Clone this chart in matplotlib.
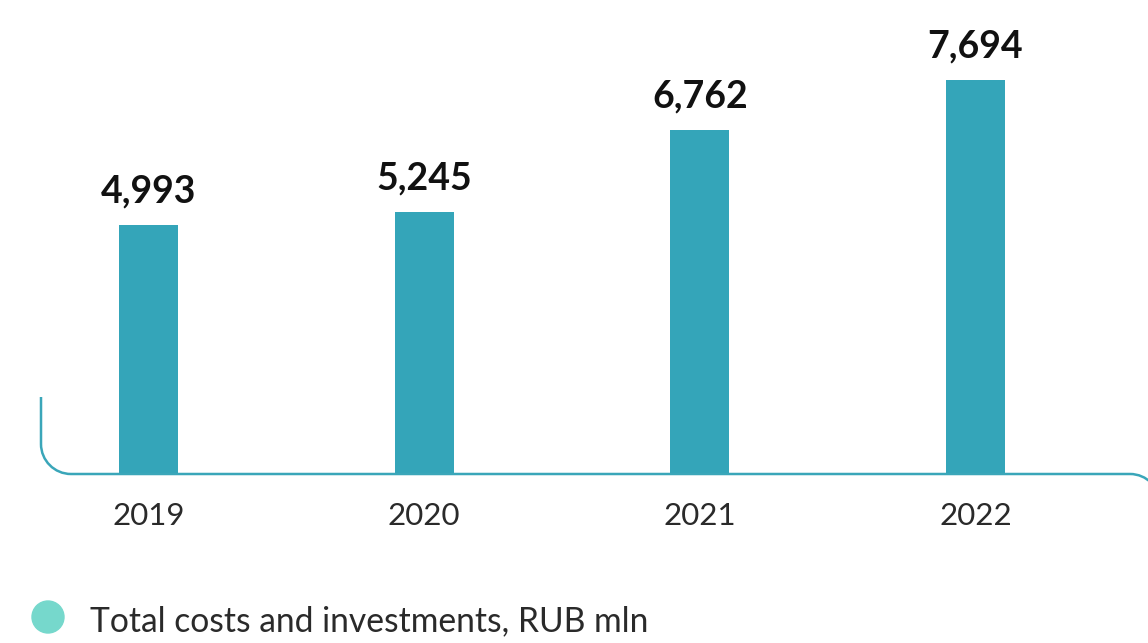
import matplotlib
matplotlib.use("Agg")
import matplotlib.pyplot as plt
from matplotlib.path import Path
from matplotlib.patches import PathPatch, Circle

# data
years = ["2019", "2020", "2021", "2022"]
values = [4993, 5245, 6762, 7694]
value_labels = ["4,993", "5,245", "6,762", "7,694"]
legend_label = "Total costs and investments, RUB mln"

BAR_COLOR = "#34a5b9"
LINE_COLOR = "#3aa6b9"
DOT_COLOR = "#76d8cc"
TEXT_COLOR = "#2a2a2a"

plt.rcParams["font.family"] = ["Lato", "DejaVu Sans"]

W, H, DPI = 1148, 643, 100
fig = plt.figure(figsize=(W / DPI, H / DPI), dpi=DPI)

# main axes: bottom edge is the baseline of the bars
ax = fig.add_axes([0, (H - 474) / H, 1, 474 / H])
x = list(range(len(years)))
ax.bar(x, values, width=0.214, color=BAR_COLOR)
ax.set_xlim(-0.5387, 3.626)
ax.set_ylim(365, 9182)
for xi, v, lab in zip(x, values, value_labels):
    ax.annotate(lab, (xi, v), xytext=(0, 16), textcoords="offset points",
                ha="center", va="baseline", fontsize=27, fontweight="bold",
                color="#111111")
ax.set_xticks(x)
ax.set_xticklabels(years, fontsize=22.5, color=TEXT_COLOR)
ax.tick_params(axis="x", length=0, pad=20)
ax.set_yticks([])
for s in ax.spines.values():
    s.set_visible(False)
ax.patch.set_alpha(0)

# overlay in pixel coordinates for the rounded axis line and legend
deco = fig.add_axes([0, 0, 1, 1], zorder=3)
deco.set_xlim(0, W)
deco.set_ylim(H, 0)
deco.axis("off")
deco.patch.set_alpha(0)

r = 30
k = 0.5523 * r
verts = [
    (41, 397), (41, 474 - r),
    (41, 474 - r + k), (71 - k, 474), (71, 474),
    (1130, 474),
    (1130 + k, 474), (1160, 474 + r - k), (1160, 474 + r),
]
codes = [Path.MOVETO, Path.LINETO,
         Path.CURVE4, Path.CURVE4, Path.CURVE4,
         Path.LINETO,
         Path.CURVE4, Path.CURVE4, Path.CURVE4]
deco.add_patch(PathPatch(Path(verts, codes), fill=False, edgecolor=LINE_COLOR,
                         linewidth=1.8, capstyle="butt"))

deco.add_patch(Circle((48, 617), 16, color=DOT_COLOR))
deco.text(90, 621, legend_label, fontsize=24.2, color=TEXT_COLOR,
          ha="left", va="center")

fig.savefig("out.png", dpi=DPI)
